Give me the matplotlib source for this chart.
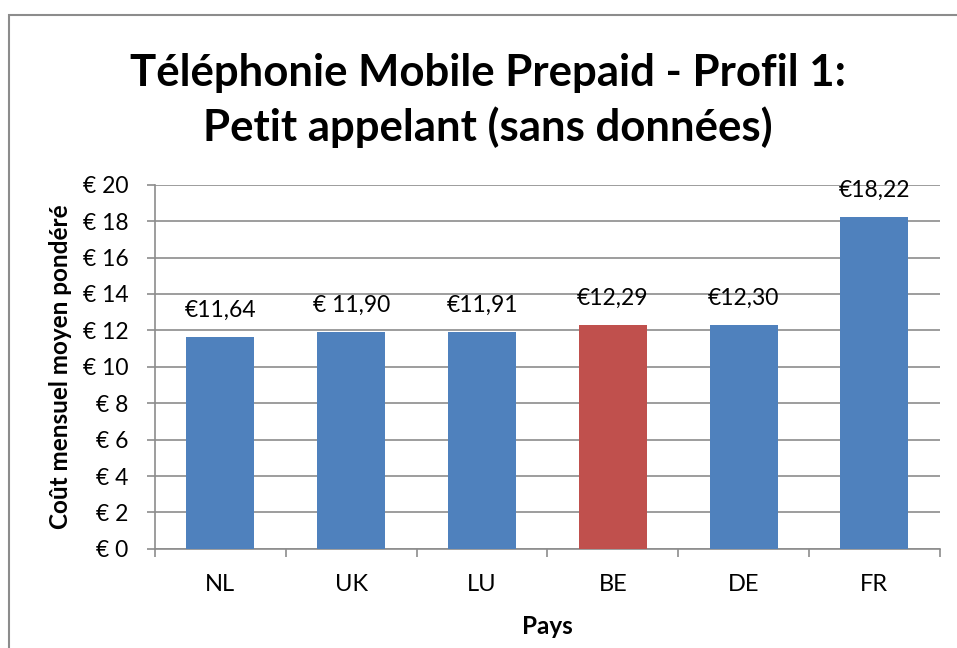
import matplotlib.pyplot as plt
from matplotlib.patches import Rectangle
import numpy as np

# data
countries = ['NL', 'UK', 'LU', 'BE', 'DE', 'FR']
costs = [11.64, 11.90, 11.91, 12.29, 12.30, 18.22]
value_labels = ['€11,64', '€ 11,90', '€11,91', '€12,29', '€12,30', '€18,22']
bar_colors = ['#4F81BD', '#4F81BD', '#4F81BD', '#C0504D', '#4F81BD', '#4F81BD']
y_ticks = [0, 2, 4, 6, 8, 10, 12, 14, 16, 18, 20]
y_tick_labels = [f'€ {v}' for v in y_ticks]

plt.rcParams['font.family'] = ['Lato', 'DejaVu Sans']

fig = plt.figure(figsize=(9.57, 6.48), dpi=100)
ax = fig.add_axes([0.162, 0.153, 0.820, 0.562])

# outer chart border (cropped on right and bottom)
fig.patches.append(Rectangle((9 / 957, -0.05), 1.2, 1 - 15 / 648 + 0.05,
                             transform=fig.transFigure, fill=False,
                             edgecolor='#8c8c8c', linewidth=1.5))

x = np.arange(len(countries))
bars = ax.bar(x, costs, width=0.52, color=bar_colors, zorder=3)

for bar, lab in zip(bars, value_labels):
    ax.annotate(lab, (bar.get_x() + bar.get_width() / 2, bar.get_height()),
                xytext=(0, 19), textcoords='offset points',
                ha='center', va='center', fontsize=16.5)

ax.set_xlim(-0.5, len(countries) - 0.5)
ax.set_ylim(0, 20)
ax.set_yticks(y_ticks)
ax.set_yticklabels(y_tick_labels, fontsize=16.5)
ax.set_xticks(x)
ax.set_xticklabels(countries, fontsize=17)
ax.set_xticks(np.arange(-0.5, len(countries)), minor=True)
ax.tick_params(axis='x', which='major', length=0, pad=18)
ax.tick_params(axis='x', which='minor', length=6, color='#8c8c8c', width=1.2)
ax.tick_params(axis='y', length=6, color='#8c8c8c', width=1.2, pad=13)

ax.grid(True, axis='y', color='#8c8c8c', linewidth=1.2, zorder=0)
for s in ['top', 'right']:
    ax.spines[s].set_visible(False)
for s in ['left', 'bottom']:
    ax.spines[s].set_color('#8c8c8c')
    ax.spines[s].set_linewidth(1.2)

ax.set_xlabel('Pays', fontsize=17.5, fontweight='bold')
ax.xaxis.set_label_coords(0.4995, -0.181)
ax.set_ylabel('Coût mensuel moyen pondéré', fontsize=17.5, fontweight='bold')
ax.yaxis.set_label_coords(-0.106, 0.5)

fig.text(0.51, 0.845, 'Téléphonie Mobile Prepaid - Profil 1:\nPetit appelant (sans données)',
         ha='center', va='center', fontsize=31.5, fontweight='bold', linespacing=1.36)

fig.savefig('out.png', dpi=100)
